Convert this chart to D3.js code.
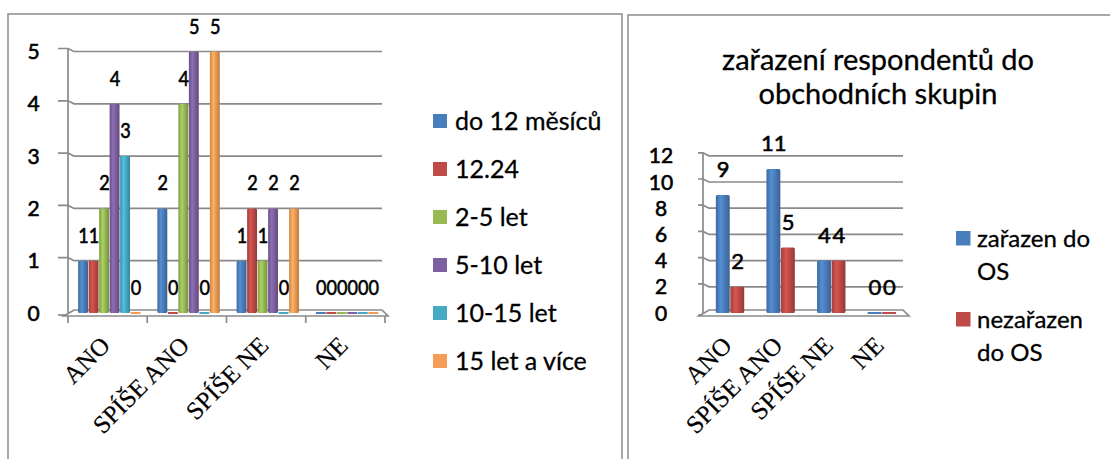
<!DOCTYPE html>
<html><head><meta charset="utf-8">
<script src="https://cdn.jsdelivr.net/npm/d3@7"></script>
<style>body{margin:0;background:#fff}svg{display:block}text{stroke:#000;stroke-width:0.3px}text.num{stroke-width:0.6px}</style>
</head><body>
<svg id="c" width="1110" height="459"></svg>
<script>
// ---- Left chart data ----
const categories = ["ANO", "SPÍŠE ANO", "SPÍŠE NE", "NE"];
const leftSeries = ["do 12 měsíců", "12.24", "2-5 let", "5-10 let", "10-15 let", "15 let a více"];
const leftColors = ["#4A7EBB", "#BE4B48", "#98B954", "#7D60A0", "#46AAC5", "#F59D56"];
const leftDo12 = [1, 2, 1, 0];
const left1224 = [1, 0, 2, 0];
const left25 = [2, 4, 1, 0];
const left510 = [4, 5, 2, 0];
const left1015 = [3, 0, 0, 0];
const left15plus = [0, 5, 2, 0];
const leftTicks = [0, 1, 2, 3, 4, 5];
// ---- Right chart data ----
const rightTitle = ["zařazení respondentů do", "obchodních skupin"];
const rightSeries = ["zařazen do OS", "nezařazen do OS"];
const rightLegendLines = [["zařazen do", "OS"], ["nezařazen", "do OS"]];
const rightColors = ["#4A7EBB", "#BE4B48"];
const rightZarazen = [9, 11, 4, 0];
const rightNezarazen = [2, 5, 4, 0];
const rightTicks = [0, 2, 4, 6, 8, 10, 12];

const svg = d3.select("#c");
const defs = svg.append("defs");
const sans = "Lato, 'Open Sans', sans-serif";
const serif = "'Liberation Serif', 'Times New Roman', serif";
const gridCol = "#8a8a8a";

function grad(id, col) {
  const c = d3.color(col);
  const g = defs.append("linearGradient").attr("id", id).attr("x1", "0").attr("x2", "1").attr("y1", "0").attr("y2", "0");
  g.append("stop").attr("offset", "0%").attr("stop-color", c.darker(0.5));
  g.append("stop").attr("offset", "35%").attr("stop-color", c.brighter(0.35));
  g.append("stop").attr("offset", "100%").attr("stop-color", c.darker(0.7));
  return "url(#" + id + ")";
}
function numText(sel, v, size, maxW) {
  const s = String(v);
  sel.attr("class", "num").attr("font-family", sans).attr("font-size", size).attr("fill", "#000").text(s);
  if (maxW) sel.attr("textLength", maxW * s.length).attr("lengthAdjust", "spacingAndGlyphs");
  return sel;
}

// Panel borders
svg.append("path").attr("d", "M8,459 L8,14 L622,14 L622,459").attr("fill", "none").attr("stroke", "#8c8c8c").attr("stroke-width", 1.5);
svg.append("path").attr("d", "M628,459 L628,15 L1110,15").attr("fill", "none").attr("stroke", "#8c8c8c").attr("stroke-width", 1.5);

function drawChart(o) {
  const g = svg.append("g");
  const y = d3.scaleLinear().domain([0, o.max]).range([o.y0, o.yTop]);
  const x0 = d3.scaleBand().domain(categories).range(o.xr);
  const x1 = d3.scaleBand().domain(o.series).range([0, o.groupW]);
  const off = (x0.bandwidth() - o.groupW) / 2 + o.shift;
  // gridlines
  o.ticks.forEach(t => {
    const yy = y(t);
    if (t > 0) {
      g.append("path").attr("d", `M${o.tickX0},${yy - 3} L${o.axisX},${yy - 3} L${o.axisX + 6},${yy} L${o.gridX1},${yy}`)
        .attr("fill", "none").attr("stroke", gridCol).attr("stroke-width", 1.7);
    } else {
      g.append("path").attr("d", `M${o.tickX0},${yy + 2} L${o.axisX},${yy + 2}`)
        .attr("fill", "none").attr("stroke", gridCol).attr("stroke-width", 1.7);
    }
    numText(g.append("text").attr("x", o.labelX).attr("y", yy).attr("dy", "0.36em").attr("text-anchor", "middle"), t, o.axisFont);
  });
  // left wall line
  g.append("line").attr("x1", o.axisX).attr("x2", o.axisX).attr("y1", y(o.max) - 3).attr("y2", o.y0 + 3)
    .attr("stroke", gridCol).attr("stroke-width", 1.7);
  // floor
  g.append("path").attr("d", `M${o.axisX + 6},${o.y0 - 3} L${o.gridX1},${o.y0 - 3} L${o.gridX1 + 6},${o.y0 + 3} L${o.axisX - 4},${o.y0 + 3} Z`)
    .attr("fill", "#fff").attr("stroke", gridCol).attr("stroke-width", 1.7);
  if (o.catTicks) {
    const bounds = categories.map(c => x0(c)).concat([o.xr[1]]);
    bounds.forEach(b => g.append("line").attr("x1", b).attr("x2", b).attr("y1", o.y0 + 3).attr("y2", o.y0 + 10)
      .attr("stroke", gridCol).attr("stroke-width", 1.7));
  }
  // bars
  o.series.forEach((s, si) => {
    const fill = grad(o.id + si, o.colors[si]);
    categories.forEach((c, ci) => {
      const v = o.values[si][ci];
      const bx = x0(c) + off + x1(s);
      const top = y(v);
      const h = Math.max(o.y0 - top, 2);
      g.append("rect").attr("x", bx).attr("y", v > 0 ? top : o.y0 - 1).attr("width", x1.bandwidth() - 0.6).attr("height", v > 0 ? h : 2)
        .attr("fill", v > 0 ? fill : o.colors[si]).attr("rx", v > 0 ? 1.5 : 0);
      numText(g.append("text").attr("x", bx + x1.bandwidth() / 2).attr("y", top - 18).attr("text-anchor", "middle"),
        v, o.dataFont, o.dataMaxW);
    });
  });
  // category labels
  categories.forEach(c => {
    const cx = x0(c) + x0.bandwidth() / 2 + o.catDx;
    g.append("text").attr("transform", `translate(${cx},${o.catY}) rotate(-45)`).attr("text-anchor", "end")
      .attr("font-family", serif).attr("font-size", 25).attr("fill", "#000").style("stroke-width", "0.2px").text(c);
  });
}

drawChart({
  id: "L", max: 5, y0: 313, yTop: 51.5, xr: [68, 385], groupW: 63, shift: 2,
  series: leftSeries, colors: leftColors,
  values: [leftDo12, left1224, left25, left510, left1015, left15plus],
  ticks: leftTicks, tickX0: 58, axisX: 68, gridX1: 382, labelX: 33.5,
  axisFont: 21, dataFont: 21, dataMaxW: 10.5, catTicks: true, catDx: 4, catY: 347
});

drawChart({
  id: "R", max: 12, y0: 313, yTop: 155.8, xr: [705, 907.5], groupW: 29, shift: 0,
  series: rightSeries, colors: rightColors,
  values: [rightZarazen, rightNezarazen],
  ticks: rightTicks, tickX0: 698, axisX: 703, gridX1: 903, labelX: 661,
  axisFont: 21, dataFont: 22, dataMaxW: 0, catTicks: false, catDx: 3, catY: 347
});

// Left legend
leftSeries.forEach((s, i) => {
  const cy = 121 + i * 48;
  svg.append("rect").attr("x", 433).attr("y", cy - 7).attr("width", 14).attr("height", 14).attr("fill", leftColors[i]);
  svg.append("text").attr("x", 455).attr("y", cy).attr("dy", "0.36em").attr("font-family", sans).attr("font-size", 25)
    .attr("fill", "#000").text(s);
});

// Right title
rightTitle.forEach((t, i) => {
  svg.append("text").attr("x", 878).attr("y", 70 + i * 34).attr("text-anchor", "middle").attr("font-family", sans)
    .attr("font-size", 29).attr("fill", "#000").text(t);
});

// Right legend
rightLegendLines.forEach((lines, i) => {
  const cy = i === 0 ? 238 : 319;
  svg.append("rect").attr("x", 956).attr("y", cy - 7).attr("width", 14.5).attr("height", 14.5).attr("fill", rightColors[i]);
  lines.forEach((ln, j) => {
    svg.append("text").attr("x", 977).attr("y", cy + j * 33).attr("dy", "0.36em").attr("font-family", sans)
      .attr("font-size", 24).attr("fill", "#000").text(ln);
  });
});
</script>
</body></html>
